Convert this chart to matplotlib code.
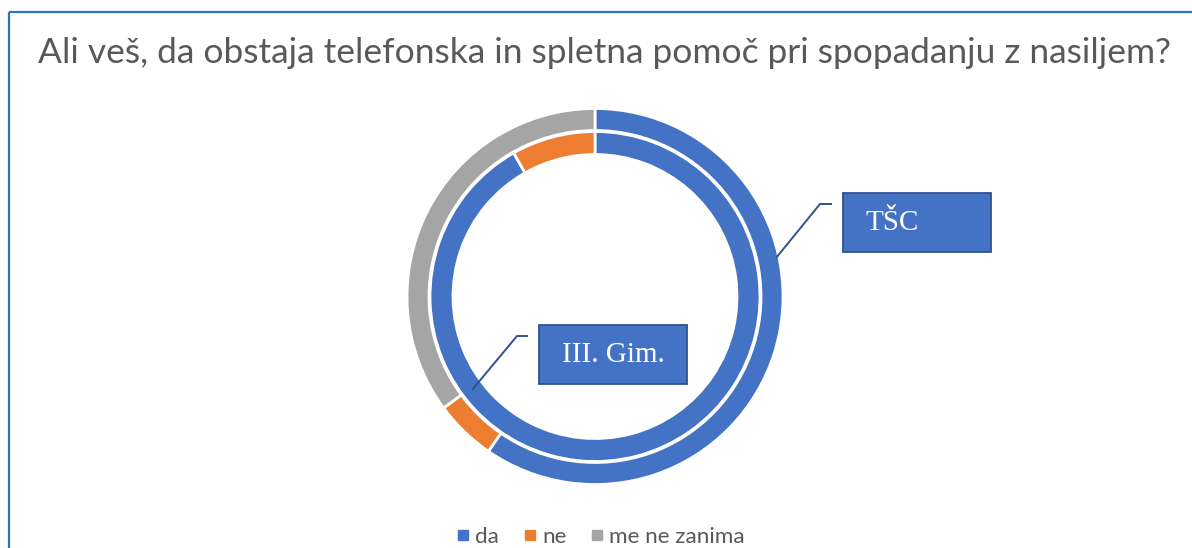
import matplotlib
matplotlib.use("Agg")
import matplotlib.pyplot as plt
from matplotlib.patches import Rectangle
from matplotlib.lines import Line2D

# ---- data ----
title = "Ali veš, da obstaja telefonska in spletna pomoč pri spopadanju z nasiljem?"
categories = ["da", "ne", "me ne zanima"]
colors = ["#4472C4", "#ED7D31", "#A5A5A5"]
series_names = ["TŠC", "III. Gim."]
tsc_values = [59.6, 5.3, 35.1]     # outer ring
gim_values = [91.8, 8.2, 0.0]      # inner ring

W, H = 1192, 548
fig = plt.figure(figsize=(W / 100, H / 100), dpi=100)
ax = fig.add_axes([0, 0, 1, 1])


def Y(y):
    return H - y


cx, cy = 595, Y(296.5)


def ring(vals, r, w):
    v = [x for x in vals if x > 0]
    c = [col for x, col in zip(vals, colors) if x > 0]
    ax.pie(v, colors=c, radius=r, center=(cx, cy), startangle=90,
           counterclock=False,
           wedgeprops=dict(width=w, edgecolor="white", linewidth=2.0))


ring(tsc_values, 188, 22)
ring(gim_values, 165, 23)

ax.set_xlim(0, W)
ax.set_ylim(0, H)
ax.set_aspect("equal")
ax.axis("off")

# ---- callout labels ----
box_w, box_h = 148, 59
label_pos = {"TŠC": (843, 193), "III. Gim.": (539, 325)}
leaders = {"TŠC": [(776, 258), (820, 204), (832, 204)],
           "III. Gim.": [(472, 390), (517, 336), (528, 336)]}
for name in series_names:
    x, y = label_pos[name]
    ax.add_patch(Rectangle((x, Y(y + box_h)), box_w, box_h,
                           facecolor="#4472C4", edgecolor="#2F528F",
                           linewidth=1.3, zorder=5))
    ax.text(x + 23, Y(y + box_h / 2 + 1), name, ha="left", va="center",
            fontsize=21, family="Liberation Serif", color="white", zorder=6)
    pts = leaders[name]
    ax.plot([p[0] for p in pts], [Y(p[1]) for p in pts], color="#2F528F",
            lw=1.4, zorder=4, solid_capstyle="butt")

# ---- border ----
ax.plot([8.5, 8.5], [Y(548), Y(11.5)], color="#2E75B6", lw=1.6,
        solid_capstyle="butt")
ax.plot([8.5, 1192], [Y(11.5), Y(11.5)], color="#2E75B6", lw=1.6,
        solid_capstyle="butt")

# ---- title (fit to reference width) ----
t = ax.text(38, Y(63), title, fontsize=24, family="Lato", color="#595959",
            ha="left", va="baseline")
fig.canvas.draw()
bb = t.get_window_extent()
t.set_fontsize(24 * 1134 / bb.width)

# ---- legend ----
handles = [Line2D([], [], marker="s", linestyle="", markersize=6.5,
                  markerfacecolor=c, markeredgecolor=c) for c in colors]
fig.legend(handles, categories, loc="center",
           bbox_to_anchor=(600 / W, 1 - 537 / H), ncol=3, frameon=False,
           handlelength=0.7, handletextpad=0.2,
           columnspacing=1.0, labelcolor="#595959",
           prop={"family": "Lato", "size": 16.2})

fig.savefig("out.png", dpi=100)
